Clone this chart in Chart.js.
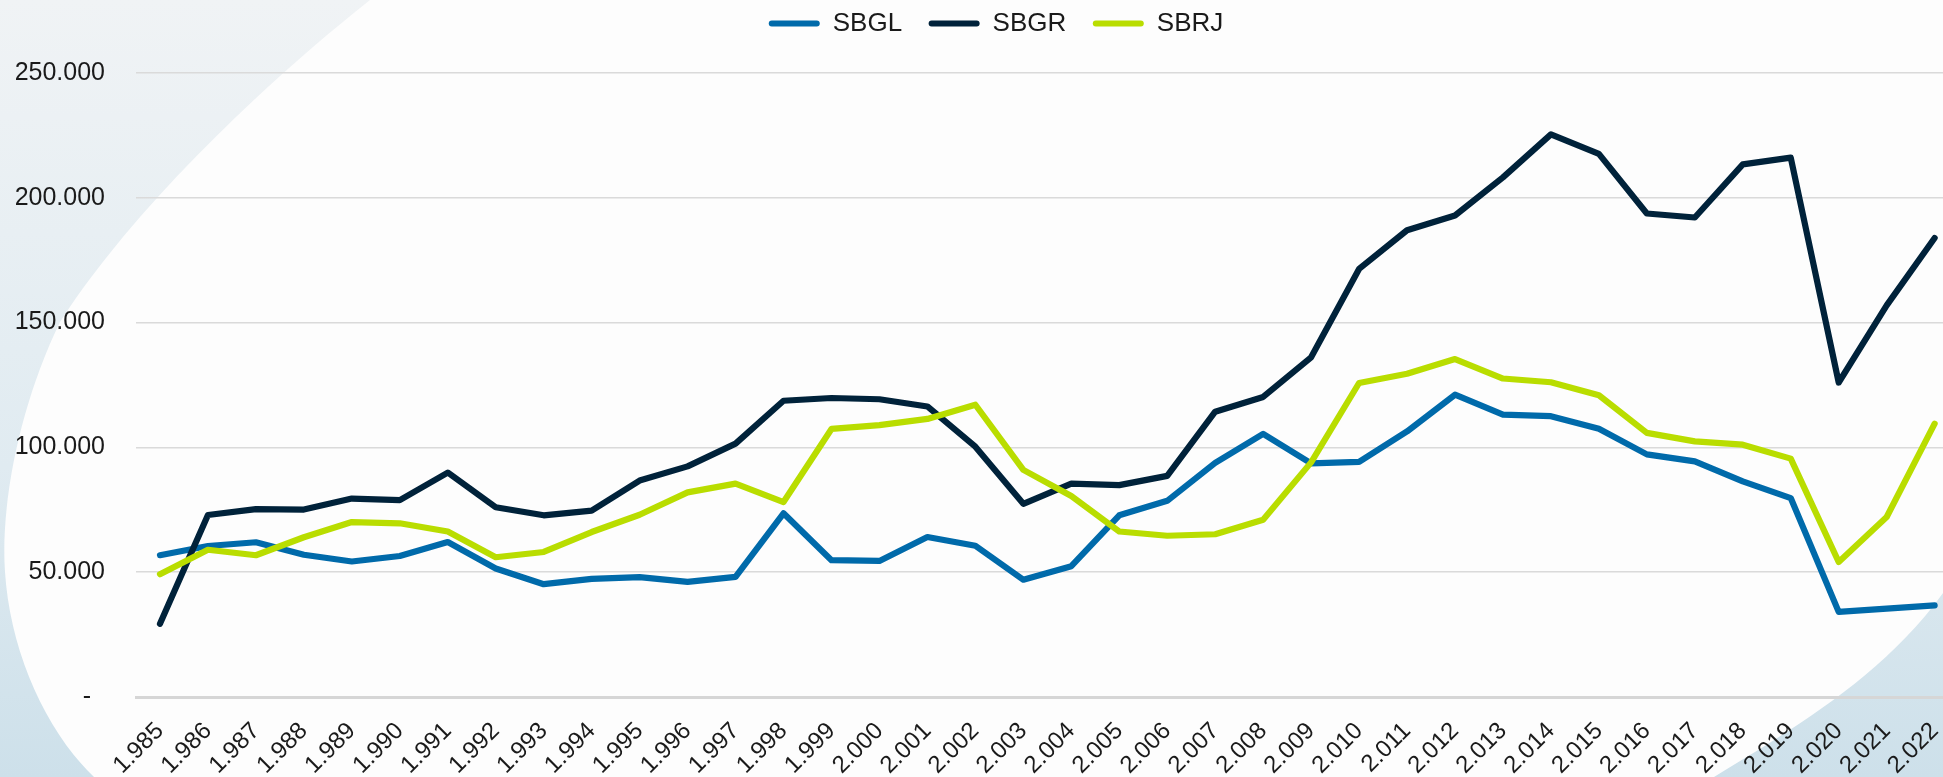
<!DOCTYPE html>
<html>
<head>
<meta charset="utf-8">
<script src="https://cdn.jsdelivr.net/npm/chart.js@4.4.0/dist/chart.umd.min.js"></script>
<style>
    html, body { margin: 0; padding: 0; width: 1943px; height: 777px; overflow: hidden; background: #fff; }
    #fundo { position: absolute; left: 0; top: 0; }
    #wrap { position: absolute; left: 0; top: 0; width: 1967px; height: 777px; }
</style>
</head>
<body>
<svg id="fundo" width="1943" height="777">
    <defs>
        <linearGradient id="azul" x1="0" y1="0" x2="0" y2="1">
            <stop offset="0" stop-color="#f0f3f5"/>
            <stop offset="0.6" stop-color="#e0ebf1"/>
            <stop offset="1" stop-color="#cde0ea"/>
        </linearGradient>
    </defs>
    <rect x="0" y="0" width="1943" height="777" fill="url(#azul)"/>
    <path d="M370 0 C250 95, 125 220, 60 322 C22 400, 0 500, 5 572 C10 650, 45 730, 94 777 L1714 777 C1790 730, 1880 680, 1943 593 L1943 0 Z" fill="#fdfdfd"/>
</svg>
<div id="wrap"><canvas id="grafico"></canvas></div>
<script>
var anos = ['1.985', '1.986', '1.987', '1.988', '1.989', '1.990', '1.991', '1.992', '1.993', '1.994',
    '1.995', '1.996', '1.997', '1.998', '1.999', '2.000', '2.001', '2.002', '2.003', '2.004',
    '2.005', '2.006', '2.007', '2.008', '2.009', '2.010', '2.011', '2.012', '2.013', '2.014',
    '2.015', '2.016', '2.017', '2.018', '2.019', '2.020', '2.021', '2.022'];

var sbgl = [56800, 60500, 62000, 57000, 54300, 56500, 62100, 51500, 45200, 47300,
    48000, 46100, 48100, 73600, 54800, 54500, 64100, 60600, 47000, 52400,
    72800, 78600, 93800, 105400, 93600, 94200, 106400, 121100, 113100, 112500,
    107500, 97200, 94400, 86400, 79700, 34100, 35400, 36700];

var sbgr = [29300, 72900, 75300, 75100, 79500, 78900, 89900, 76000, 72800, 74700,
    86700, 92400, 101500, 118700, 119800, 119300, 116400, 100300, 77400, 85500,
    84900, 88600, 114300, 120200, 136100, 171500, 187000, 192900, 208200, 225400,
    217600, 193700, 192100, 213400, 216100, 126000, 156900, 183900];

var sbrj = [49200, 59000, 56800, 64000, 70100, 69600, 66300, 56000, 58100, 66100,
    73000, 82000, 85500, 78100, 107400, 108900, 111400, 117100, 91000, 80500,
    66300, 64600, 65200, 71000, 94000, 125800, 129500, 135400, 127600, 126100,
    120900, 105800, 102400, 101100, 95500, 54100, 72100, 109500];

var yMax = 250000;
var yPasso = 50000;

function formatar(v) {
    if (v === 0) return '-  ';
    return String(v).replace(/\B(?=(\d{3})+(?!\d))/g, '.');
}

var ajusteLegenda = {
    id: 'ajusteLegenda',
    beforeInit: function (chart) {
        var fitOriginal = chart.legend.fit;
        chart.legend.fit = function () {
            fitOriginal.bind(chart.legend)();
            this.height = 73;
        };
    },
    afterLayout: function (chart) {
        var lg = chart.legend;
        lg.left += 12.5;
        lg.right += 12.5;
        lg.top -= 16;
        lg.bottom -= 16;
    }
};

var fonte = "'Liberation Sans', Arial, sans-serif";

new Chart(document.getElementById('grafico').getContext('2d'), {
    type: 'line',
    data: {
        labels: anos,
        datasets: [
            { label: 'SBGL', data: sbgl, borderColor: '#006AAA', backgroundColor: '#006AAA', order: 3 },
            { label: 'SBGR', data: sbgr, borderColor: '#00223A', backgroundColor: '#00223A', order: 2 },
            { label: 'SBRJ', data: sbrj, borderColor: '#B9DD00', backgroundColor: '#B9DD00', order: 1 }
        ]
    },
    options: {
        responsive: true,
        maintainAspectRatio: false,
        animation: false,
        layout: { padding: 0 },
        elements: {
            line: { borderWidth: 6.2, tension: 0, borderCapStyle: 'round', borderJoinStyle: 'round', fill: false },
            point: { radius: 0, hoverRadius: 0 }
        },
        plugins: {
            tooltip: { enabled: false },
            legend: {
                position: 'top',
                labels: {
                    boxWidth: 51,
                    boxHeight: 6,
                    padding: 26.5,
                    color: '#1a1a1a',
                    font: { family: fonte, size: 26 },
                    useBorderRadius: true,
                    borderRadius: 3,
                    generateLabels: function (chart) {
                        var itens = Chart.defaults.plugins.legend.labels.generateLabels(chart);
                        itens.forEach(function (it) { it.lineWidth = 0; });
                        itens.sort(function (a, b) { return a.datasetIndex - b.datasetIndex; });
                        return itens;
                    }
                }
            }
        },
        scales: {
            x: {
                offset: true,
                grid: { display: false },
                border: { display: true, color: '#d6d6d6', width: 3 },
                ticks: {
                    autoSkip: false,
                    maxRotation: 45,
                    minRotation: 45,
                    padding: 12,
                    color: '#1a1a1a',
                    font: { family: fonte, size: 24 }
                },
                afterFit: function (scale) { scale.height = 80; }
            },
            y: {
                min: 0,
                max: yMax,
                border: { display: false },
                grid: { color: '#dadada', lineWidth: 1.5, drawTicks: false },
                ticks: {
                    stepSize: yPasso,
                    padding: 31,
                    color: '#1a1a1a',
                    font: { family: fonte, size: 25 },
                    callback: function (v) { return formatar(v); }
                },
                afterFit: function (scale) { scale.width = 136; }
            }
        }
    },
    plugins: [ajusteLegenda]
});
</script>
</body>
</html>
